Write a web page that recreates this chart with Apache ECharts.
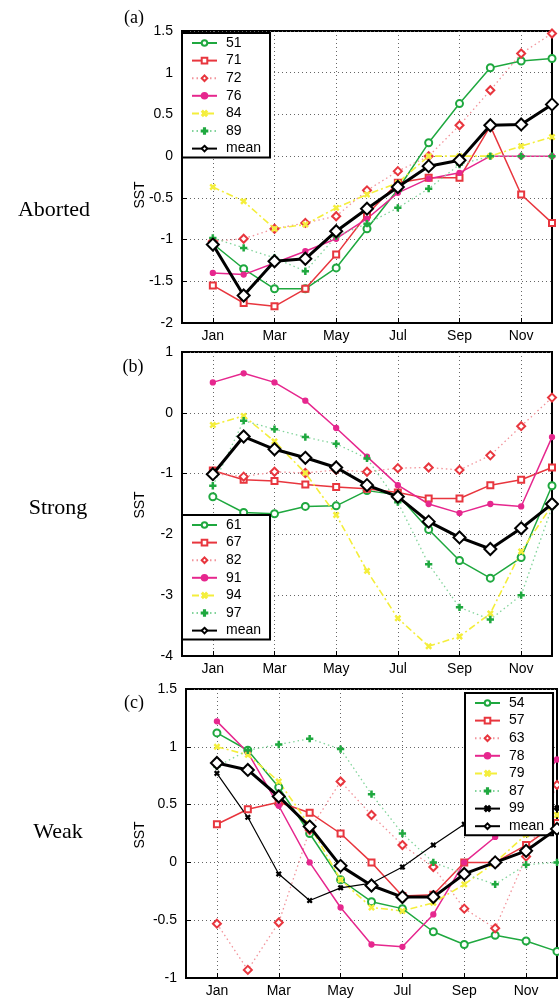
<!DOCTYPE html>
<html>
<head>
<meta charset="utf-8">
<title>SST</title>
<script src="https://cdn.jsdelivr.net/npm/echarts@6/dist/echarts.min.js"></script>
<style>
  html, body { margin: 0; padding: 0; background: #fff; }
  #chart { width: 559px; height: 998px; }
</style>
</head>
<body>
<div id="chart"></div>
<script type="text/javascript">
// month categories (index 0 is the empty slot at the left edge)
var months = ['', 'Jan', 'Feb', 'Mar', 'Apr', 'May', 'Jun', 'Jul', 'Aug', 'Sep', 'Oct', 'Nov', 'Dec'];

// (a) Aborted
var a51 = [-1.05, -1.35, -1.59, -1.59, -1.34, -0.87, -0.40, 0.16, 0.63, 1.06, 1.14, 1.17];
var a71 = [-1.55, -1.76, -1.80, -1.59, -1.18, -0.70, -0.32, -0.26, -0.26, 0.36, -0.46, -0.80];
var a72 = [-1.02, -0.99, -0.87, -0.80, -0.72, -0.41, -0.18, 0.00, 0.37, 0.79, 1.23, 1.47];
var a76 = [-1.40, -1.42, -1.28, -1.14, -0.99, -0.75, -0.44, -0.27, -0.20, 0.00, 0.00, 0.00];
var a84 = [-0.37, -0.54, -0.87, -0.82, -0.62, -0.46, -0.32, 0.00, 0.00, 0.00, 0.12, 0.23];
var a89 = [-0.98, -1.10, -1.22, -1.38, -0.96, -0.81, -0.62, -0.39, -0.10, 0.00, 0.00, 0.00];
var aMean = [-1.06, -1.67, -1.26, -1.23, -0.90, -0.63, -0.37, -0.12, -0.05, 0.37, 0.38, 0.62];

// (b) Strong
var b61 = [-1.38, -1.64, -1.66, -1.54, -1.53, -1.28, -1.35, -1.92, -2.43, -2.72, -2.38, -1.20];
var b67 = [-0.95, -1.10, -1.12, -1.18, -1.22, -1.25, -1.31, -1.41, -1.41, -1.19, -1.10, -0.90];
var b82 = [-1.00, -1.05, -0.97, -0.99, -0.94, -0.97, -0.91, -0.90, -0.94, -0.70, -0.22, 0.25];
var b91 = [0.50, 0.65, 0.50, 0.20, -0.25, -0.72, -1.19, -1.50, -1.65, -1.50, -1.54, -0.40];
var b94 = [-0.20, -0.05, -0.47, -0.99, -1.68, -2.60, -3.38, -3.84, -3.68, -3.30, -2.28, -1.52];
var b97 = [-1.20, -0.13, -0.27, -0.40, -0.51, -0.75, -1.47, -2.49, -3.20, -3.40, -3.00, -1.55];
var bMean = [-1.01, -0.39, -0.60, -0.74, -0.90, -1.19, -1.38, -1.79, -2.05, -2.24, -1.90, -1.50];

// (c) Weak
var c54 = [1.12, 0.97, 0.65, 0.25, -0.15, -0.34, -0.40, -0.60, -0.71, -0.63, -0.68, -0.77];
var c57 = [0.33, 0.46, 0.52, 0.43, 0.25, 0.00, -0.29, -0.28, 0.00, 0.00, 0.15, 0.34];
var c63 = [-0.53, -0.93, -0.52, 0.28, 0.70, 0.41, 0.15, -0.04, -0.40, -0.57, 0.05, 0.67];
var c78 = [1.22, 0.95, 0.49, 0.00, -0.39, -0.71, -0.73, -0.45, 0.00, 0.22, 0.55, 0.89];
var c79 = [1.00, 0.93, 0.70, 0.32, -0.15, -0.39, -0.42, -0.35, -0.19, 0.00, 0.24, 0.41];
var c87 = [0.83, 0.97, 1.02, 1.07, 0.98, 0.59, 0.25, 0.00, -0.10, -0.19, -0.02, 0.00];
var c99 = [0.77, 0.39, -0.10, -0.33, -0.22, -0.18, -0.04, 0.15, 0.33, 0.42, 0.45, 0.47];
var cMean = [0.86, 0.80, 0.57, 0.31, -0.03, -0.20, -0.30, -0.30, -0.10, 0.00, 0.10, 0.29];

var GREEN = '#1fa83f', RED = '#e8363e', MAGENTA = '#e6278e', YELLOW = '#f4ee3c';
var PLUS = 'path://M4,0h2v4h4v2h-4v4h-2v-4h-4v-2h4z';
var FONT = 'Liberation Sans, Arial, sans-serif';
var SERIF = 'Liberation Serif, Times New Roman, serif';

// line styles, matlab-ish
var styles = {
    g:  { color: GREEN, line: { width: 1.5 }, symbol: 'emptyCircle', size: 7 },
    r:  { color: RED, line: { width: 1.5 }, symbol: 'emptyRect', size: 6 },
    rd: { color: RED, line: { width: 1.3, color: '#f2939a', type: [1.5, 3] }, symbol: 'emptyDiamond', size: 8 },
    m:  { color: MAGENTA, line: { width: 1.5 }, symbol: 'circle', size: 5 },
    y:  { color: YELLOW, line: { width: 1.6, type: [7, 3, 2, 3] }, symbol: PLUS, rotate: 45, size: 6 },
    gd: { color: GREEN, line: { width: 1.3, color: '#82d49b', type: [1.5, 3] }, symbol: PLUS, size: 6 },
    k:  { color: '#000', line: { width: 1.2 }, symbol: PLUS, rotate: 45, size: 5 },
    mean: { color: '#000', line: { width: 3 }, symbol: 'emptyDiamond', size: 12 }
};

function mk(name, vals, key, gi) {
    var s = styles[key];
    var ls = { color: s.line.color || s.color, width: s.line.width, type: s.line.type || 'solid' };
    return {
        name: name,
        type: 'line',
        xAxisIndex: gi,
        yAxisIndex: gi,
        data: vals.map(function (v, i) { return [i + 1, v]; }),
        symbol: s.symbol,
        symbolSize: s.size,
        symbolRotate: s.rotate || 0,
        lineStyle: ls,
        itemStyle: { color: s.color, borderColor: s.color, borderWidth: key === 'mean' ? 2.2 : 1.3 },
        z: key === 'mean' ? 5 : 3
    };
}

var odd = function (index) { return index % 2 === 1; };

function xAx(gi) {
    return {
        type: 'category', gridIndex: gi, data: months, boundaryGap: false,
        axisLine: { onZero: false, lineStyle: { color: '#000', width: 2 } },
        axisTick: { inside: true, length: 5, interval: odd, lineStyle: { color: '#000' } },
        axisLabel: { interval: odd, color: '#000', fontSize: 14, fontFamily: FONT, margin: 6 },
        splitLine: { show: true, interval: odd, lineStyle: { color: '#666', type: [1, 3] } }
    };
}
function yAx(gi, min, max, step) {
    return {
        type: 'value', gridIndex: gi, min: min, max: max, interval: step,
        axisLine: { show: true, onZero: false, lineStyle: { color: '#000', width: 2 } },
        axisTick: { show: true, inside: true, length: 5, lineStyle: { color: '#000' } },
        axisLabel: { color: '#000', fontSize: 14, fontFamily: FONT, margin: 9 },
        splitLine: { show: true, lineStyle: { color: '#666', type: [1, 3] } }
    };
}
function leg(names, left, top) {
    return {
        data: names, orient: 'vertical', left: left, top: top,
        itemWidth: 25, itemHeight: 7, itemGap: 3.6,
        padding: [3, 9, 2, 9],
        borderColor: '#000', borderWidth: 2, backgroundColor: '#fff',
        textStyle: { fontSize: 14, lineHeight: 14, color: '#000', fontFamily: FONT, padding: [0, 0, 0, 4] },
        selectedMode: false
    };
}
function txt(x, y, str, size, family) {
    return { type: 'text', x: x, y: y, style: { text: str, font: size + 'px ' + family, fill: '#000', textAlign: 'center', textVerticalAlign: 'middle' } };
}
function sst(y) {
    return { type: 'text', x: 140, y: y, rotation: Math.PI / 2, style: { text: 'SST', font: '14px ' + FONT, fill: '#000', textAlign: 'center', textVerticalAlign: 'middle' } };
}

var myChart = echarts.init(document.getElementById('chart'));
myChart.setOption({
    animation: false,
    backgroundColor: '#fff',
    grid: [
        { left: 182, top: 31, width: 370, height: 292, show: true, borderColor: '#000', borderWidth: 2 },
        { left: 182, top: 352, width: 370, height: 304, show: true, borderColor: '#000', borderWidth: 2 },
        { left: 186, top: 689, width: 371, height: 292, show: true, borderColor: '#000', borderWidth: 2 }
    ],
    xAxis: [xAx(0), xAx(1), xAx(2)],
    yAxis: [yAx(0, -2, 1.5, 0.5), yAx(1, -4, 1, 1), yAx(2, -1, 1.5, 0.5)],
    legend: [
        leg(['51', '71', '72', '76', '84', '89', 'mean'], 182, 33),
        leg(['61', '67', '82', '91', '94', '97', 'mean'], 182, 515),
        leg(['54', '57', '63', '78', '79', '87', '99', 'mean'], 465, 693)
    ],
    graphic: [
        txt(54, 210, 'Aborted', 22, SERIF),
        txt(58, 508, 'Strong', 22, SERIF),
        txt(58, 832, 'Weak', 22, SERIF),
        txt(134, 18, '(a)', 18, SERIF),
        txt(133, 367, '(b)', 18, SERIF),
        txt(134, 703, '(c)', 18, SERIF),
        sst(195), sst(505), sst(835)
    ],
    series: [
        mk('51', a51, 'g', 0), mk('71', a71, 'r', 0), mk('72', a72, 'rd', 0), mk('76', a76, 'm', 0),
        mk('84', a84, 'y', 0), mk('89', a89, 'gd', 0), mk('mean', aMean, 'mean', 0),
        mk('61', b61, 'g', 1), mk('67', b67, 'r', 1), mk('82', b82, 'rd', 1), mk('91', b91, 'm', 1),
        mk('94', b94, 'y', 1), mk('97', b97, 'gd', 1), mk('mean', bMean, 'mean', 1),
        mk('54', c54, 'g', 2), mk('57', c57, 'r', 2), mk('63', c63, 'rd', 2), mk('78', c78, 'm', 2),
        mk('79', c79, 'y', 2), mk('87', c87, 'gd', 2), mk('99', c99, 'k', 2), mk('mean', cMean, 'mean', 2)
    ]
});
</script>
</body>
</html>
